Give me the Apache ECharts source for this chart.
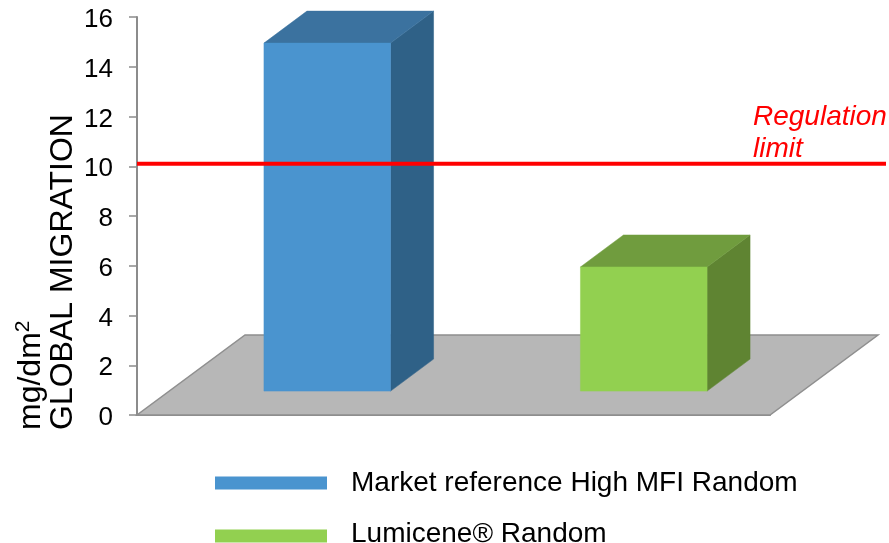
<!DOCTYPE html>
<html>
<head>
<meta charset="utf-8">
<style>html,body{margin:0;padding:0;background:#fff}#c{width:889px;height:543px}</style>
<script src="https://cdn.jsdelivr.net/npm/echarts@6/dist/echarts.min.js"></script>
</head>
<body>
<div id="c"></div>
<script>
const categories = ['Market reference High MFI Random', 'Lumicene® Random'];
const seriesNames = ['Market reference High MFI Random', 'Lumicene® Random'];
const marketValues = [14.95];
const lumiceneValues = [5.95];
const barBaseValue = 0.96;
const regulationLimit = [10.1];
const limitLabel = 'Regulation\nlimit';
const axisTitleUnit = '{a|mg/dm}{s|2}';
const axisTitleName = 'GLOBAL MIGRATION';

const FONT = '"Liberation Sans", Arial, sans-serif';
const DEPTH_X = 43, DEPTH_Y = 32;
const FLOOR_X = 108, FLOOR_Y = 80;
const BAR_SHIFT = 32, BAR_RATIO = 0.4;
const LIMIT_OVERHANG = 116;

function poly(points, fill, stroke) {
  return {
    type: 'polygon',
    shape: { points },
    style: { fill, stroke: stroke || fill, lineWidth: stroke ? 1.5 : 0.5 }
  };
}

function barRenderer(catIndex, front, top, side) {
  return function (params, api) {
    const t = api.coord([catIndex, api.value(0)]);
    const b = api.coord([catIndex, barBaseValue]);
    const w = api.size([1, 0])[0] * BAR_RATIO;
    const x0 = t[0] + BAR_SHIFT - w / 2, x1 = x0 + w;
    return {
      type: 'group',
      children: [
        poly([[x1, t[1]], [x1 + DEPTH_X, t[1] - DEPTH_Y], [x1 + DEPTH_X, b[1] - DEPTH_Y], [x1, b[1]]], side),
        poly([[x0, t[1]], [x0 + DEPTH_X, t[1] - DEPTH_Y], [x1 + DEPTH_X, t[1] - DEPTH_Y], [x1, t[1]]], top),
        poly([[x0, t[1]], [x1, t[1]], [x1, b[1]], [x0, b[1]]], front)
      ]
    };
  };
}

const chart = echarts.init(document.getElementById('c'), null, { renderer: 'canvas' });
chart.setOption({
  animation: false,
  backgroundColor: '#fff',
  grid: { left: 137, top: 17, width: 633, height: 398, containLabel: false },
  xAxis: {
    type: 'category',
    data: categories,
    axisTick: { show: false },
    axisLabel: { show: false },
    axisLine: { show: true, lineStyle: { color: '#8c8c8c', width: 2 } },
    splitLine: { show: false }
  },
  yAxis: {
    type: 'value',
    min: 0, max: 16, interval: 2,
    axisLine: { show: true, lineStyle: { color: '#8c8c8c', width: 2 } },
    axisTick: { show: true, length: 8, lineStyle: { color: '#8c8c8c', width: 1.5 } },
    axisLabel: {
      color: '#000', fontFamily: FONT, fontSize: 26, margin: 24,
      formatter: '{v|{value}}',
      rich: { v: { color: '#000', fontFamily: FONT, fontSize: 26, padding: [6, 0, 0, 0] } }
    },
    splitLine: { show: false }
  },
  legend: {
    show: true,
    orient: 'vertical',
    left: 215,
    top: 469,
    height: 120,
    padding: 0,
    itemWidth: 112,
    itemHeight: 13,
    itemGap: 23,
    icon: 'rect',
    data: seriesNames,
    formatter: name => name === seriesNames[1] ? '{b|' + name + '}' : name,
    textStyle: {
      color: '#000', fontFamily: FONT, fontSize: 28, padding: [0, 0, 0, 19],
      rich: { b: { color: '#000', fontFamily: FONT, fontSize: 28, padding: [0, 0, 4, 0] } }
    }
  },
  graphic: [
    { type: 'text', x: 31, y: 430, rotation: Math.PI / 2, style: {
      text: axisTitleUnit, fontFamily: FONT, fill: '#000', align: 'left', verticalAlign: 'middle',
      rich: {
        a: { fontFamily: FONT, fontSize: 32, fill: '#000', lineHeight: 36 },
        s: { fontFamily: FONT, fontSize: 21, fill: '#000', lineHeight: 36, verticalAlign: 'top', padding: [0, 0, 10, 0] }
      }
    } },
    { type: 'text', x: 63, y: 430, rotation: Math.PI / 2, style: { text: axisTitleName, fontFamily: FONT, fontSize: 32, fill: '#000', align: 'left', verticalAlign: 'middle' } }
  ],
  series: [
    {
      name: 'floor', type: 'custom', coordinateSystem: 'cartesian2d', z: 1, silent: true,
      data: [[0]],
      renderItem(params, api) {
        const o = api.coord([0, 0]);
        const w = api.size([1, 0])[0] * categories.length;
        const x0 = o[0] - api.size([1, 0])[0] / 2;
        return poly([[x0, o[1]], [x0 + w, o[1]], [x0 + w + FLOOR_X, o[1] - FLOOR_Y], [x0 + FLOOR_X, o[1] - FLOOR_Y]], '#b7b7b7', '#8f8f8f');
      }
    },
    {
      name: seriesNames[0], type: 'custom', coordinateSystem: 'cartesian2d', z: 2,
      itemStyle: { color: '#4a94cf' }, data: marketValues.map(v => [v]),
      renderItem: barRenderer(0, '#4a94cf', '#3b729f', '#2f6187')
    },
    {
      name: seriesNames[1], type: 'custom', coordinateSystem: 'cartesian2d', z: 2,
      itemStyle: { color: '#92d050' }, data: lumiceneValues.map(v => [v]),
      renderItem: barRenderer(1, '#92d050', '#709c3e', '#5f8432')
    },
    {
      name: 'limit', type: 'custom', coordinateSystem: 'cartesian2d', z: 3, silent: true,
      data: regulationLimit.map(v => [v]),
      renderItem(params, api) {
        const c = api.coord([0, api.value(0)]);
        const cw = api.size([1, 0])[0];
        const x0 = c[0] - cw / 2, x1 = x0 + cw * categories.length + LIMIT_OVERHANG;
        return {
          type: 'group',
          children: [
            { type: 'line', shape: { x1: x0, y1: c[1], x2: x1, y2: c[1] }, style: { stroke: '#ff0000', lineWidth: 4 } },
            { type: 'text', x: x1 - 133, y: c[1] + 1, style: { text: limitLabel, fill: '#ff0000', fontFamily: FONT, fontStyle: 'italic', fontSize: 28, lineHeight: 32, align: 'left', verticalAlign: 'bottom' } }
          ]
        };
      }
    }
  ]
});
</script>
</body>
</html>
